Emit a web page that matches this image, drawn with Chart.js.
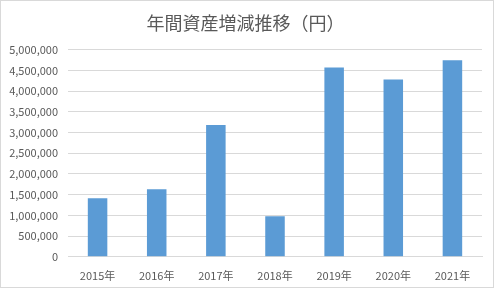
<!DOCTYPE html>
<html>
<head>
<meta charset="utf-8">
<script src="https://cdn.jsdelivr.net/npm/chart.js@4/dist/chart.umd.min.js"></script>
<style>
  html, body { margin: 0; padding: 0; background: #fff; }
  #wrap { width: 492px; height: 286px; border: 1px solid #d9d9d9; }
</style>
</head>
<body>
<div id="wrap"><canvas id="assets" width="492" height="286"></canvas></div>
<script>
const years = ['2015年', '2016年', '2017年', '2018年', '2019年', '2020年', '2021年'];
const assets = [1410000, 1630000, 3180000, 980000, 4570000, 4280000, 4740000];
const yMax = 5000000;
const yStep = 500000;

const fontFamily = '"Noto Sans CJK JP", "Noto Sans", sans-serif';
const textColor = '#595959';
const gridColor = '#d9d9d9';

const ctx = document.getElementById('assets').getContext('2d');

const assetChart = new Chart(ctx, {
    type: 'bar',
    data: {
        labels: years,
        datasets: [
            {
                label: '資産',
                data: assets,
                backgroundColor: '#5b9bd5',
                categoryPercentage: 1,
                barPercentage: 0.33
            }
        ]
    },
    options: {
        responsive: false,
        animation: false,
        layout: {
            padding: { left: 8, right: 11, top: 0, bottom: 1 }
        },
        plugins: {
            legend: { display: false },
            tooltip: { enabled: false },
            title: {
                display: true,
                text: '年間資産増減推移（円）',
                color: textColor,
                font: { family: fontFamily, size: 18, weight: 'normal' },
                padding: { top: 11, bottom: 16 }
            }
        },
        scales: {
            x: {
                grid: { display: false },
                border: { color: gridColor },
                ticks: {
                    color: textColor,
                    font: { family: fontFamily, size: 11 },
                    padding: 4
                }
            },
            y: {
                min: 0,
                max: yMax,
                grid: { color: gridColor, drawTicks: false },
                border: { display: false },
                afterFit: function(scale) { scale.width = 59; },
                ticks: {
                    stepSize: yStep,
                    color: textColor,
                    padding: 10,
                    font: { family: fontFamily, size: 11 },
                    callback: function(value) { return value.toLocaleString('en-US'); }
                }
            }
        }
    }
});
</script>
</body>
</html>
